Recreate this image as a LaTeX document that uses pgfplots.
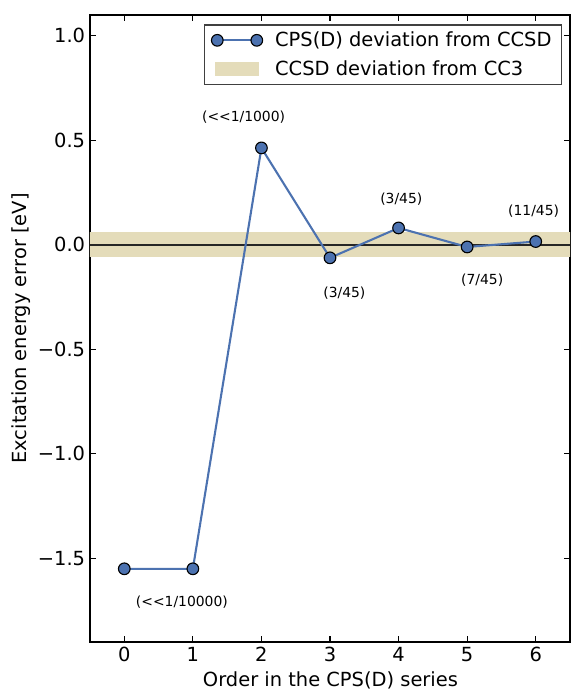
\documentclass[border=0pt]{standalone}
\usepackage{fontspec}
\setmainfont{DejaVu Sans}
\usepackage{pgfplots}
\pgfplotsset{compat=1.18}
\usetikzlibrary{calc}
\definecolor{cpsblue}{RGB}{76,114,176}
\definecolor{bandc}{RGB}{228,220,186}
\begin{document}
\begin{tikzpicture}[font=\fontsize{14}{17}\selectfont]
\begin{axis}[
  scale only axis, width=345.6pt, height=451.4pt,
  xmin=-0.5, xmax=6.5, ymin=-1.9, ymax=1.1,
  xtick={0,1,2,3,4,5,6},
  ytick={-1.5,-1,-0.5,0,0.5,1},
  yticklabels={−1.5,−1.0,−0.5,0.0,0.5,1.0},
  /pgf/number format/assume math mode=true,
  tick align=inside, tick pos=both, major tick length=4pt,
  every tick/.style={black, line width=0.8pt},
  axis line style={line width=1pt},
  xlabel={Order in the CPS(D) series},
  ylabel={Excitation energy error [eV]},
  xlabel style={at={(axis description cs:0.501,-0.0606)}, anchor=center},
  ylabel style={at={(axis description cs:-0.144,0.5)}, anchor=center},
  legend style={at={(0.983,0.985)}, anchor=north east, draw=black!75, line width=0.8pt,
    font=\fontsize{14}{17}\selectfont, inner xsep=5pt, inner ysep=3pt, row sep=4.5pt,
    /tikz/every odd column/.append style={column sep=7pt}},
  legend cell align=left,
  clip=true,
]
\addplot[draw=none, fill=bandc, forget plot] coordinates {(-1,0.063) (7,0.063) (7,-0.06) (-1,-0.06)} -- cycle;
\addplot[black!85, line width=1.8pt, forget plot] coordinates {(-1,0) (7,0)};
\addplot[cpsblue, line width=1.5pt, mark=*, mark size=4.2pt,
  mark options={fill=cpsblue, draw=black, line width=0.8pt},
  legend image code/.code={\draw plot coordinates {(0cm,0cm) (1.0cm,0cm)};}]
  coordinates {(0,-1.55) (1,-1.55) (2,0.464) (3,-0.062) (4,0.081) (5,-0.01) (6,0.016)};
\addlegendentry{CPS(D) deviation from CCSD}
\addlegendimage{legend image code/.code={\fill[bandc] (-0.05cm,-0.17cm) rectangle (1.05cm,0.17cm);}}
\addlegendentry{CCSD deviation from CC3}
\begin{scope}[font=\fontsize{10}{12}\selectfont]
\node at (axis cs:1.74,0.61) {(<{}<1/1000)};
\node at (axis cs:0.84,-1.71) {(<{}<1/10000)};
\node at (axis cs:3.21,-0.23) {(3/45)};
\node at (axis cs:4.04,0.22) {(3/45)};
\node at (axis cs:5.22,-0.17) {(7/45)};
\node at (axis cs:5.97,0.16) {(11/45)};
\end{scope}
\end{axis}
\pgfresetboundingbox
\path ($(current axis.south west)+(-64.8pt,-34.6pt)$) rectangle ($(current axis.north east)+(0.72pt,10.8pt)$);
\end{tikzpicture}
\end{document}
